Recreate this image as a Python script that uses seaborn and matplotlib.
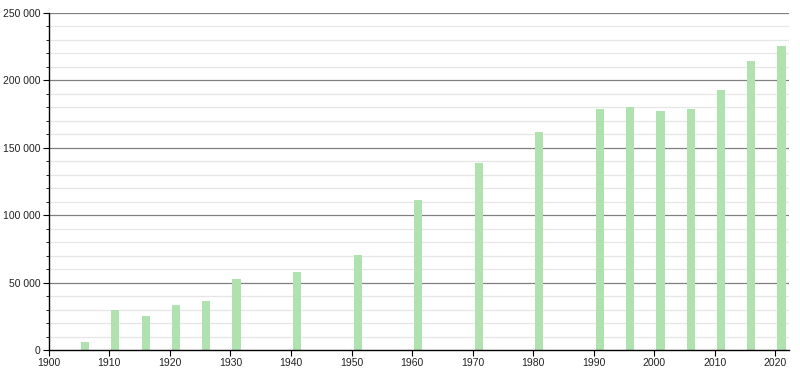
import matplotlib
matplotlib.use("Agg")
import matplotlib.pyplot as plt
import matplotlib.ticker as mticker
import seaborn as sns
import pandas as pd

years = [1906, 1911, 1916, 1921, 1926, 1931, 1941, 1951, 1961, 1971,
         1981, 1991, 1996, 2001, 2006, 2011, 2016, 2021]
population = [6300, 29700, 25500, 33700, 36400, 52700, 57900, 70300, 111400, 138600,
              161900, 179000, 179900, 177500, 179000, 192600, 214600, 225800]

df = pd.DataFrame({"year": years, "pop": population})

sns.set_theme(style="white")
plt.rcParams['font.family'] = ['Liberation Sans', 'DejaVu Sans']

fig = plt.figure(figsize=(8, 3.7), dpi=100)
ax = fig.add_axes([0.061, 0.054, 0.925, 0.911])

# grid
for v in range(10000, 250001, 10000):
    if v % 50000 == 0:
        ax.axhline(v, color="#808080", lw=0.9, zorder=1)
    else:
        ax.axhline(v, color="#e6e6e6", lw=0.9, zorder=1)

sns.barplot(data=df, x="year", y="pop", native_scale=True, width=0.27,
            color="#b0e2b0", saturation=1, ax=ax, zorder=2, errorbar=None,
            linewidth=0)

ax.set_xlim(1900, 2022.2)
ax.set_ylim(0, 250000)
ax.set_xlabel("")
ax.set_ylabel("")

ax.xaxis.set_major_locator(mticker.MultipleLocator(10))
ax.yaxis.set_major_locator(mticker.MultipleLocator(50000))
ax.yaxis.set_minor_locator(mticker.MultipleLocator(10000))
ax.yaxis.set_major_formatter(mticker.FuncFormatter(lambda v, p: f"{int(v):,}".replace(",", " ")))

for s in ["top", "right"]:
    ax.spines[s].set_visible(False)
for s in ["left", "bottom"]:
    ax.spines[s].set_color("black")
    ax.spines[s].set_linewidth(1.0)
    ax.spines[s].set_zorder(3)

ax.tick_params(axis="both", which="major", direction="out", length=4, width=0.8,
               color="black", labelsize=7.5, pad=2, left=True, bottom=True,
               labelcolor="#222222")
ax.tick_params(axis="y", which="minor", direction="out", length=2, width=0.6,
               color="black", left=True)

fig.savefig("out.png", dpi=100)
